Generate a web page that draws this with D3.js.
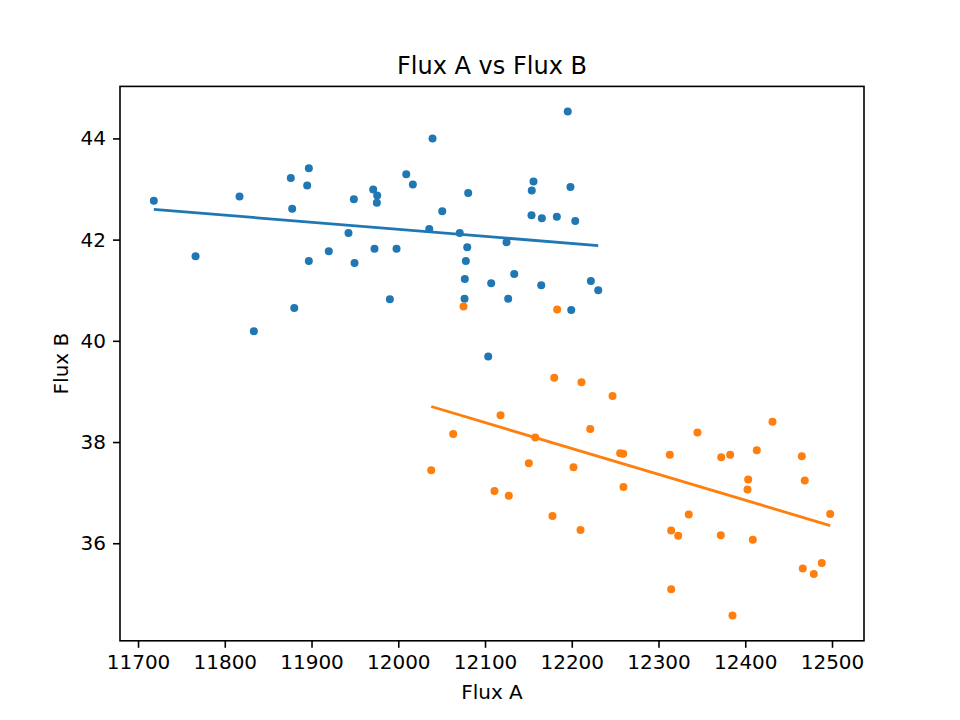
<!DOCTYPE html>
<html>
<head>
<meta charset="utf-8">
<script src="https://cdn.jsdelivr.net/npm/d3@7"></script>
<style>
  body { margin: 0; background: #fff; }
  svg text { font-family: "DejaVu Sans", sans-serif; fill: #000; }
</style>
</head>
<body>
<div class="chart"></div>
<script>
// group 1 (blue)
const fluxA1 = [11718.2, 11817.0, 11896.9, 11876.1, 11895.0, 11877.7, 11948.8, 11942.6, 11919.9, 11896.9,
  11949.6, 11766.3, 11880.1, 11833.5, 12195.4, 12039.5, 12009.2, 12016.8, 11971.1, 11975.7,
  11975.3, 12080.6, 12155.9, 12153.9, 12198.5, 12050.7, 12153.6, 12165.5, 12182.8, 12204.0,
  12035.7, 12070.9, 12124.8, 12079.5, 11972.6, 11998.0, 12077.9, 12076.7, 12133.7, 12107.1,
  12164.8, 12222.0, 12230.5, 11990.3, 12076.4, 12126.7, 12199.4, 12103.7];
const fluxB1 = [42.77, 42.85, 43.41, 43.22, 43.07, 42.61, 42.80, 42.13, 41.77, 41.58,
  41.54, 41.67, 40.65, 40.19, 44.53, 44.00, 43.29, 43.09, 42.99, 42.87,
  42.73, 42.92, 43.15, 42.97, 43.04, 42.56, 42.48, 42.42, 42.45, 42.37,
  42.21, 42.13, 41.95, 41.85, 41.82, 41.82, 41.58, 41.22, 41.32, 41.14,
  41.10, 41.18, 41.00, 40.82, 40.83, 40.83, 40.61, 39.69];

// group 2 (orange)
const fluxA2 = [12075.2, 12183.2, 12179.8, 12211.2, 12247.0, 12117.9, 12063.3, 12157.9, 12221.3, 12255.8,
  12259.3, 12038.0, 12150.5, 12202.0, 12259.6, 12110.9, 12127.4, 12177.8, 12210.1, 12431.4,
  12344.9, 12313.0, 12372.3, 12382.6, 12413.3, 12465.2, 12403.4, 12402.6, 12468.6, 12497.9,
  12334.9, 12314.6, 12322.7, 12371.8, 12408.7, 12466.3, 12488.2, 12479.0, 12314.6, 12385.3];
const fluxB2 = [40.68, 40.62, 39.27, 39.18, 38.91, 38.53, 38.16, 38.09, 38.26, 37.78,
  37.77, 37.44, 37.58, 37.50, 37.11, 37.03, 36.94, 36.54, 36.26, 38.40,
  38.19, 37.75, 37.70, 37.75, 37.84, 37.72, 37.26, 37.06, 37.24, 36.58,
  36.57, 36.25, 36.15, 36.16, 36.07, 35.50, 35.61, 35.39, 35.09, 34.57];

// trend lines: value at Flux A = 12000 and slope
const fitAt12000 = [42.204, 38.896];
const fitSlope = [-0.0013955, -0.005115];

const xTicks = [11700, 11800, 11900, 12000, 12100, 12200, 12300, 12400, 12500];
const yTicks = [36, 38, 40, 42, 44];
const colors = ["#1f77b4", "#ff7f0e"];

const width = 960, height = 720;
const margin = {left: 120, right: 96, top: 86.4, bottom: 79.2};

const groups = [
  {a: fluxA1, b: fluxB1, color: colors[0], c: fitAt12000[0], m: fitSlope[0]},
  {a: fluxA2, b: fluxB2, color: colors[1], c: fitAt12000[1], m: fitSlope[1]}
];

const allA = fluxA1.concat(fluxA2), allB = fluxB1.concat(fluxB2);
function padded(ext) {
  const p = (ext[1] - ext[0]) * 0.05;
  return [ext[0] - p, ext[1] + p];
}

const x = d3.scaleLinear()
    .domain(padded(d3.extent(allA)))
    .range([margin.left, width - margin.right]);
const y = d3.scaleLinear()
    .domain(padded(d3.extent(allB)))
    .range([height - margin.bottom, margin.top]);

const svg = d3.select(".chart").append("svg")
    .attr("width", width)
    .attr("height", height)
    .attr("viewBox", [0, 0, width, height]);

groups.forEach(g => {
  svg.append("g").selectAll("circle")
    .data(g.a.map((v, i) => [v, g.b[i]]))
    .join("circle")
      .attr("cx", d => x(d[0]))
      .attr("cy", d => y(d[1]))
      .attr("r", 4)
      .attr("fill", g.color);
});

groups.forEach(g => {
  const f = v => g.c + g.m * (v - 12000);
  svg.append("path")
    .datum(d3.extent(g.a))
    .attr("d", d3.line().x(d => x(d)).y(d => y(f(d))))
    .attr("stroke", g.color)
    .attr("stroke-width", 2.8)
    .attr("fill", "none");
});

// axes
const xAxis = svg.append("g")
    .attr("transform", `translate(0,${height - margin.bottom})`)
    .call(d3.axisBottom(x).tickValues(xTicks).tickFormat(d3.format("d")).tickSize(7).tickPadding(7));
const yAxis = svg.append("g")
    .attr("transform", `translate(${margin.left},0)`)
    .call(d3.axisLeft(y).tickValues(yTicks).tickFormat(d3.format("d")).tickSize(7).tickPadding(7));

[xAxis, yAxis].forEach(ax => {
  ax.select(".domain").remove();
  ax.selectAll("line").attr("stroke", "#000").attr("stroke-width", 1.6);
  ax.selectAll("text").attr("font-size", 20).attr("font-family", "DejaVu Sans");
});

svg.append("rect")
    .attr("x", margin.left)
    .attr("y", margin.top)
    .attr("width", width - margin.left - margin.right)
    .attr("height", height - margin.top - margin.bottom)
    .attr("fill", "none")
    .attr("stroke", "#000")
    .attr("stroke-width", 1.6);

svg.append("text")
    .attr("x", (margin.left + width - margin.right) / 2)
    .attr("y", 74)
    .attr("text-anchor", "middle")
    .attr("font-size", 24)
    .text("Flux A vs Flux B");

svg.append("text")
    .attr("x", (margin.left + width - margin.right) / 2)
    .attr("y", 699)
    .attr("text-anchor", "middle")
    .attr("font-size", 20)
    .text("Flux A");

svg.append("text")
    .attr("transform", `translate(68,${(margin.top + height - margin.bottom) / 2}) rotate(-90)`)
    .attr("text-anchor", "middle")
    .attr("font-size", 20)
    .text("Flux B");
</script>
</body>
</html>
